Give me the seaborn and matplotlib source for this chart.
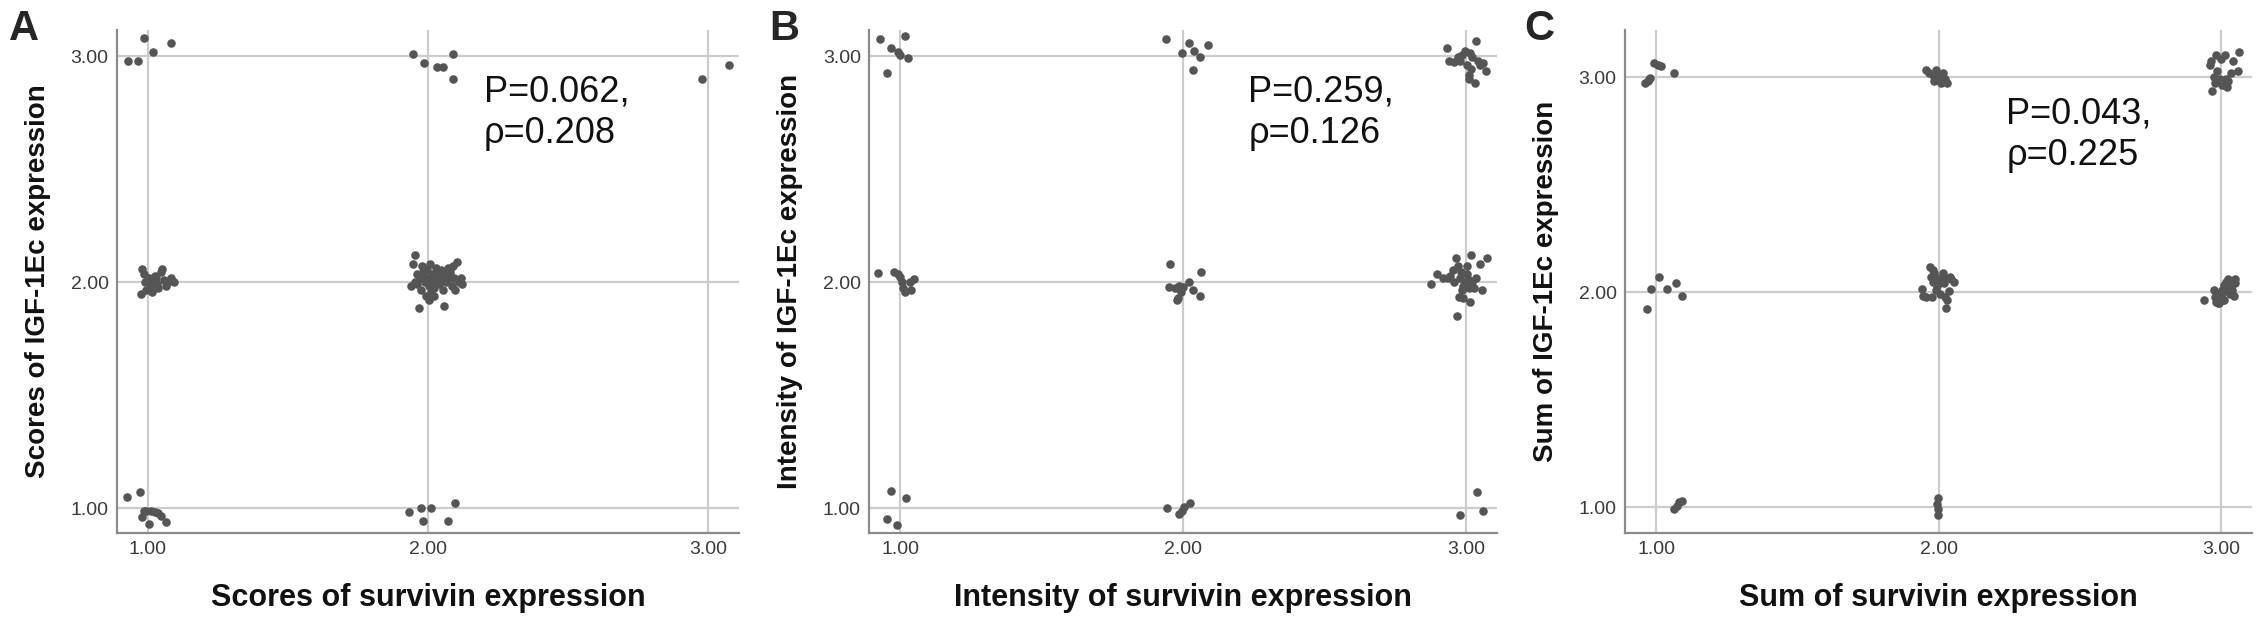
import pandas as pd
import matplotlib.pyplot as plt
import seaborn as sns

# === Point positions (jittered around the integer scores)
a_x = [0.930, 0.964, 0.986, 1.017, 1.081,
       1.945, 1.986, 2.033, 2.053, 2.090, 2.090,
       2.980, 3.074,
       0.979, 0.986, 0.974, 0.990, 1.003, 1.012, 1.015, 1.021, 1.026, 1.033,
       1.038, 1.046, 1.052, 1.057, 1.064, 1.072, 1.081, 1.093, 0.995, 1.029,
       1.955, 1.945, 1.938, 1.954, 1.962, 1.969, 1.976, 1.979, 1.985, 1.990,
       1.993, 1.998, 2.002, 2.005, 2.009, 2.010, 2.015, 2.019, 2.022, 2.027,
       2.031, 2.036, 2.041, 2.045, 2.050, 2.053, 2.058, 2.062, 2.065, 2.070,
       2.076, 2.079, 2.084, 2.088, 2.093, 2.096, 2.105, 2.110, 2.117, 2.122,
       1.962, 1.973, 1.983, 2.003, 2.021,
       0.926, 0.973, 0.978, 0.986, 0.995, 1.003, 1.012, 1.026, 1.038, 1.046, 1.064,
       1.933, 1.976, 1.983, 2.010, 2.070, 2.096]
a_y = [2.980, 2.980, 3.080, 3.020, 3.060,
       3.010, 2.970, 2.950, 2.950, 3.010, 2.900,
       2.900, 2.960,
       2.057, 2.036, 1.947, 2.000, 2.018, 1.982, 1.956, 2.000, 2.027, 1.991,
       1.973, 2.044, 2.057, 2.009, 1.982, 2.000, 2.018, 2.000, 1.964, 2.018,
       2.121, 2.080, 1.982, 2.000, 2.036, 1.884, 1.964, 2.071, 2.018, 2.000,
       1.938, 2.053, 1.982, 2.018, 2.080, 1.956, 2.000, 2.036, 1.973, 2.062,
       2.009, 2.036, 1.991, 2.053, 2.018, 1.964, 1.893, 2.036, 2.000, 2.062,
       2.018, 2.044, 1.982, 2.071, 2.018, 1.964, 2.089, 2.000, 2.018, 1.991,
       1.991, 2.018, 2.044, 1.920, 1.938,
       1.048, 1.071, 0.959, 0.986, 0.989, 0.932, 0.986, 0.982, 0.977, 0.964, 0.938,
       0.982, 1.000, 0.941, 1.000, 0.941, 1.021]

b_x = [0.928, 0.952, 0.966, 0.991, 1.000, 1.017, 1.026,
       1.940, 1.995, 2.021, 2.034, 2.038, 2.060, 2.089,
       2.933, 2.940, 2.959, 2.971, 2.985, 2.997, 3.005, 3.009, 3.014, 3.019,
       3.022, 3.031, 3.036, 3.043, 3.048, 3.060, 3.069, 2.979, 3.010,
       0.923, 0.979, 0.991, 1.000, 1.005, 1.009, 1.017, 1.038, 1.048, 1.034,
       1.952, 1.949, 1.973, 1.978, 1.986, 1.981, 1.998, 2.021, 2.034, 2.058, 2.063, 1.991,
       2.877, 2.899, 2.919, 2.937, 2.945, 2.954, 2.959, 2.967, 2.971, 2.974,
       2.979, 2.983, 2.988, 2.991, 2.997, 3.002, 3.005, 3.009, 3.014, 3.017,
       3.022, 3.027, 3.036, 3.048, 3.057, 3.074, 2.966, 2.985, 3.009,
       0.952, 0.966, 0.988, 1.021,
       1.943, 1.986, 1.995, 2.003, 2.026,
       2.979, 3.039, 3.060]
b_y = [3.075, 2.924, 3.034, 3.016, 3.004, 3.087, 2.991,
       3.075, 3.012, 3.057, 2.938, 3.021, 2.995, 3.048,
       3.034, 2.977, 2.973, 2.995, 3.004, 3.021, 2.959, 2.915, 3.012, 2.941,
       2.995, 2.879, 3.066, 2.977, 2.959, 2.968, 2.932, 2.977, 2.897,
       2.039, 2.044, 2.036, 2.021, 2.000, 1.973, 1.956, 1.964, 2.014, 2.000,
       2.080, 1.979, 1.973, 1.920, 1.982, 1.929, 1.979, 2.000, 1.964, 1.938, 2.044, 1.956,
       1.991, 2.036, 2.018, 2.018, 2.027, 2.053, 2.000, 1.849, 2.071, 1.932,
       2.018, 2.044, 1.982, 1.929, 2.000, 2.071, 2.036, 2.009, 1.911, 2.121,
       2.000, 1.973, 2.018, 2.080, 1.964, 2.107, 2.107, 1.964, 1.973,
       0.950, 1.078, 0.925, 1.043,
       1.000, 0.972, 0.989, 1.004, 1.021,
       0.968, 1.071, 0.986]

c_x = [0.962, 0.971, 0.979, 0.991, 1.005, 1.019, 1.065, 0.976,
       1.954, 1.966, 1.979, 1.991, 2.005, 2.014, 2.022, 2.031, 1.985, 2.010,
       2.966, 2.969, 2.974, 2.983, 2.986, 2.991, 3.000, 3.009, 3.014, 3.017,
       3.022, 3.026, 3.034, 3.043, 3.060, 3.065, 2.997, 3.003, 2.979, 2.962,
       0.967, 0.983, 1.010, 1.039, 1.070, 1.091,
       1.940, 1.945, 1.954, 1.971, 1.974, 1.978, 1.981, 1.985, 1.988, 1.991,
       1.997, 2.002, 2.005, 2.014, 2.019, 2.022, 2.027, 2.031, 2.036, 2.039,
       2.045, 2.053, 1.979, 1.995, 2.015,
       2.940, 2.974, 2.979, 2.983, 2.986, 2.991, 2.995, 3.000, 3.003, 3.007,
       3.010, 3.014, 3.017, 3.022, 3.026, 3.031, 3.034, 3.038, 3.041, 3.045,
       3.048, 3.051, 2.988, 3.009, 3.027,
       1.065, 1.074, 1.082, 1.091,
       1.997, 1.997, 1.998, 1.995]
c_y = [2.972, 2.981, 2.996, 3.065, 3.056, 3.052, 3.022, 2.991,
       3.034, 3.022, 3.009, 3.034, 3.000, 3.019, 2.991, 2.972, 2.981, 2.972,
       3.075, 2.935, 3.000, 3.103, 3.028, 2.981, 3.084, 2.963, 3.103, 2.991,
       2.953, 2.981, 3.019, 3.075, 3.028, 3.116, 2.991, 2.963, 2.972, 3.056,
       1.924, 2.017, 2.073, 2.017, 2.041, 1.981,
       2.017, 1.985, 1.976, 2.116, 2.069, 1.976, 2.050, 2.088, 2.069, 2.013,
       2.060, 2.041, 1.994, 2.088, 2.041, 1.976, 1.929, 1.966, 2.004, 2.069,
       2.060, 2.050, 2.103, 2.028, 2.069,
       1.966, 2.013, 1.976, 1.957, 1.994, 1.948, 1.966, 1.985, 2.013, 1.966,
       2.032, 2.004, 2.050, 2.022, 2.060, 1.994, 2.041, 2.013, 2.050, 1.985,
       2.041, 2.060, 1.948, 1.966, 2.013,
       0.994, 1.007, 1.022, 1.028,
       1.041, 0.994, 0.966, 1.013]

panel_letters = ["A", "B", "C"]
x_labels = ["Scores of survivin expression", "Intensity of survivin expression",
            "Sum of survivin expression"]
y_labels = ["Scores of IGF-1Ec expression", "Intensity of IGF-1Ec expression",
            "Sum of IGF-1Ec expression"]
stats_text = ["P=0.062,\nρ=0.208", "P=0.259,\nρ=0.126", "P=0.043,\nρ=0.225"]
tick_vals = [1, 2, 3]
tick_labels = ["1.00", "2.00", "3.00"]

# === Style
sns.set_style("white")
plt.rcParams['font.family'] = ['Liberation Sans', 'DejaVu Sans']

fig = plt.figure(figsize=(22.68, 6.31), dpi=100)
axes_rects = [
    [0.0516, 0.1553, 0.2742, 0.797],
    [0.3832, 0.1553, 0.2769, 0.797],
    [0.7165, 0.1553, 0.2765, 0.797],
]
letter_x = [0.004, 0.339, 0.672]
ylims = [(0.89, 3.115), (0.89, 3.115), (0.88, 3.22)]
text_x = [2.20, 2.23, 2.24]
text_y = [2.92, 2.92, 2.91]

datasets = [(a_x, a_y), (b_x, b_y), (c_x, c_y)]

for i, (xs, ys) in enumerate(datasets):
    ax = fig.add_axes(axes_rects[i])
    df = pd.DataFrame({"survivin": xs, "igf": ys})
    for v in tick_vals:
        ax.axhline(v, color='#cccccc', lw=1.6, zorder=0)
        ax.axvline(v, color='#cccccc', lw=1.6, zorder=0)
    sns.scatterplot(data=df, x="survivin", y="igf", ax=ax, color='#555555',
                    s=38, linewidth=0, zorder=3)
    ax.set_xlim(0.89, 3.11)
    ax.set_ylim(*ylims[i])
    ax.set_xticks(tick_vals)
    ax.set_xticklabels(tick_labels)
    ax.set_yticks(tick_vals)
    ax.set_yticklabels(tick_labels)
    ax.tick_params(length=0, labelsize=14, labelcolor='#3a3a3a', pad=6)
    for side in ["top", "right"]:
        ax.spines[side].set_visible(False)
    for side in ["left", "bottom"]:
        ax.spines[side].set_color('#8a8a8a')
        ax.spines[side].set_linewidth(1.6)
    ax.set_xlabel(x_labels[i], fontsize=22, fontweight='bold', labelpad=18, color='#111111')
    ax.set_ylabel(y_labels[i], fontsize=20, fontweight='bold', labelpad=14, color='#111111')
    ax.text(text_x[i], text_y[i], stats_text[i], fontsize=26, va='top', ha='left',
            color='#111111', linespacing=1.25)
    fig.text(letter_x[i], 0.985, panel_letters[i], fontsize=30, fontweight='bold',
             va='top', ha='left')

fig.savefig("out.png", dpi=100)
plt.close(fig)
